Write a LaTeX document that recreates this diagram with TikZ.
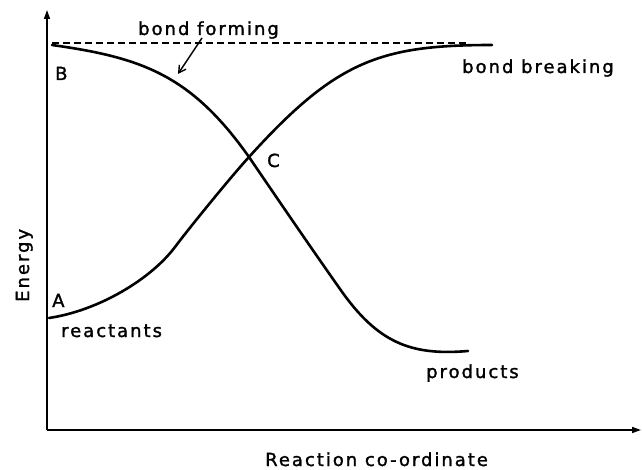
\documentclass[tikz,border=0pt]{standalone}
\usepackage{fontspec}
\newfontfamily\labfont[LetterSpace=11,FakeBold=1.5]{DejaVu Sans}
\usetikzlibrary{arrows.meta}
\begin{document}
\begin{tikzpicture}[x=1pt,y=-1pt,
  lab/.style={font=\labfont\fontsize{18}{20}\selectfont,inner sep=0pt,anchor=base west},
  axis/.style={line width=1.6pt,-{Triangle[length=9pt,width=6pt]}},
  curve/.style={line width=2.6pt,line cap=round},
  dashline/.style={line width=1.4pt,dash pattern=on 7pt off 4pt}]
\useasboundingbox (0,0) rectangle (642,470);
% axes
\coordinate (O) at (47,430);
\coordinate (ytop) at (47,10);
\coordinate (xend) at (641,430);
\draw[axis] (O) -- (ytop);
\draw[axis] (O) -- (xend);
% dashed level
\coordinate (d1) at (52,43);
\coordinate (d2) at (468,43);
\draw[dashline] (d1) -- (d2);
% key points
\coordinate (B) at (52,45);
\coordinate (A) at (49,318);
\coordinate (C) at (249,157);
\coordinate (P1) at (340,289);
\coordinate (Pend) at (468,351);
\coordinate (I) at (175,247);
\coordinate (Bend) at (492,45);
% bond forming curve (B -> products)
\draw[curve] (B) .. controls (142,57.6) and (191,75) .. (C)
  .. controls (279,201) and (309,245) .. (P1)
  .. controls (377,342) and (410,356) .. (Pend);
% bond breaking curve (A -> top)
\draw[curve] (A) .. controls (99,310.5) and (151,279) .. (I)
  .. controls (190,227) and (232,175.5) .. (C)
  .. controls (336,60.8) and (380,45) .. (Bend);
% labels
\node[lab] (bf) at (138,35) {bond forming};
\coordinate (bftip) at (178,74);
\coordinate (bfstart) at (202,38);
\draw[line width=1.4pt,-{Straight Barb[length=7pt,width=8pt]}] (bfstart) -- (bftip);
\node[lab] (lB) at (55,80) {B};
\node[lab] (bb) at (462,73) {bond breaking};
\node[lab] (lC) at (267,167) {C};
\node[lab] (lA) at (52,307) {A};
\node[lab] (re) at (61,337) {reactants};
\node[lab] (pr) at (426,378) {products};
\node[lab,rotate=90] (en) at (29,302) {Energy};
\node[lab] (rc) at (265,466) {Reaction co-ordinate};
\end{tikzpicture}
\end{document}
